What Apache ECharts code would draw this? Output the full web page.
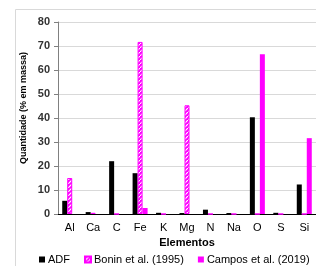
<!DOCTYPE html>
<html>
<head>
<meta charset="utf-8">
<script src="https://cdn.jsdelivr.net/npm/echarts@6/dist/echarts.min.js"></script>
<style>
  html, body { margin: 0; padding: 0; background: #fff; }
  #chart-box { width: 316px; height: 266px; }
</style>
</head>
<body>
<div id="chart-box"></div>
<script>
const categories = ['Al', 'Ca', 'C', 'Fe', 'K', 'Mg', 'N', 'Na', 'O', 'S', 'Si']
const adf = [5.5, 0.8, 22, 17, 0.5, 0.4, 1.8, 0.4, 40.3, 0.5, 12.3]
const bonin = [15, 0.5, 0, 71.7, 0, 45.3, 0, 0, 0, 0, 0]
const campos = [0, 0, 0, 2.5, 0, 0, 0, 0, 66.6, 0, 31.6]
const yTicks = [0, 10, 20, 30, 40, 50, 60, 70, 80]

const font = 'Liberation Sans, Arial, sans-serif'

// hatched fill for Bonin et al.
const hatch = document.createElement('canvas')
hatch.width = 4
hatch.height = 4
const hc = hatch.getContext('2d')
hc.fillStyle = '#ff00ff'
hc.fillRect(0, 0, 4, 4)
hc.strokeStyle = '#ffffff'
hc.lineWidth = 1.2
hc.beginPath()
hc.moveTo(0, 4)
hc.lineTo(4, 0)
hc.stroke()

const initChart = () => {
    let barChart = echarts.init(document.getElementById('chart-box'))
    barChart.setOption({
        animation: false,
        textStyle: {fontFamily: font},
        graphic: [{
            type: 'rect',
            shape: {x: 15.5, y: 9.5, width: 400, height: 400},
            style: {fill: 'none', stroke: '#d9d9d9', lineWidth: 1},
            silent: true
        }, {
            // y axis title
            type: 'text',
            x: 24,
            y: 108,
            rotation: Math.PI / 2,
            style: {
                text: 'Quantidade (% em massa)',
                fontSize: 9,
                fontWeight: 'bold',
                fontFamily: font,
                fill: '#000',
                align: 'center',
                verticalAlign: 'middle'
            },
            silent: true
        }],
        grid: {left: 58, top: 22, right: -5, bottom: 52},
        legend: {
            top: 249,
            left: 34,
            width: 282,
            itemWidth: 6,
            itemHeight: 6,
            itemGap: 14,
            textStyle: {fontSize: 11, color: '#000', fontFamily: font, padding: [0, 0, 0, -2]},
            data: [
                {name: 'ADF', icon: 'rect'},
                {name: 'Bonin et al. (1995)', icon: 'rect'},
                {name: 'Campos et al. (2019)', icon: 'rect'}
            ]
        },
        xAxis: {
            type: 'category',
            data: categories,
            name: 'Elementos',
            nameLocation: 'middle',
            nameGap: 21,
            nameTextStyle: {fontSize: 11, fontWeight: 'bold', color: '#000'},
            axisLine: {lineStyle: {color: '#000', width: 1}},
            axisTick: {show: false},
            axisLabel: {fontSize: 11, color: '#000', margin: 8}
        },
        yAxis: {
            type: 'value',
            min: yTicks[0],
            max: yTicks[yTicks.length - 1],
            interval: 10,
            axisLine: {show: true, lineStyle: {color: '#808080', width: 1}},
            axisTick: {show: true, length: 4, lineStyle: {color: '#808080'}},
            axisLabel: {fontSize: 11, color: '#333', fontWeight: 'bold', margin: 8},
            splitLine: {lineStyle: {color: '#d9d9d9', width: 1}}
        },
        series: [{
            name: 'ADF',
            type: 'bar',
            data: adf,
            barWidth: 5,
            barGap: '0%',
            itemStyle: {color: '#000'}
        }, {
            name: 'Bonin et al. (1995)',
            type: 'bar',
            data: bonin,
            barWidth: 5,
            barGap: '0%',
            itemStyle: {
                color: {image: hatch, repeat: 'repeat'},
                borderColor: '#ff00ff',
                borderWidth: 1
            }
        }, {
            name: 'Campos et al. (2019)',
            type: 'bar',
            data: campos,
            barWidth: 5,
            barGap: '0%',
            itemStyle: {color: '#ff00ff'}
        }]
    })
}
initChart()
</script>
</body>
</html>
